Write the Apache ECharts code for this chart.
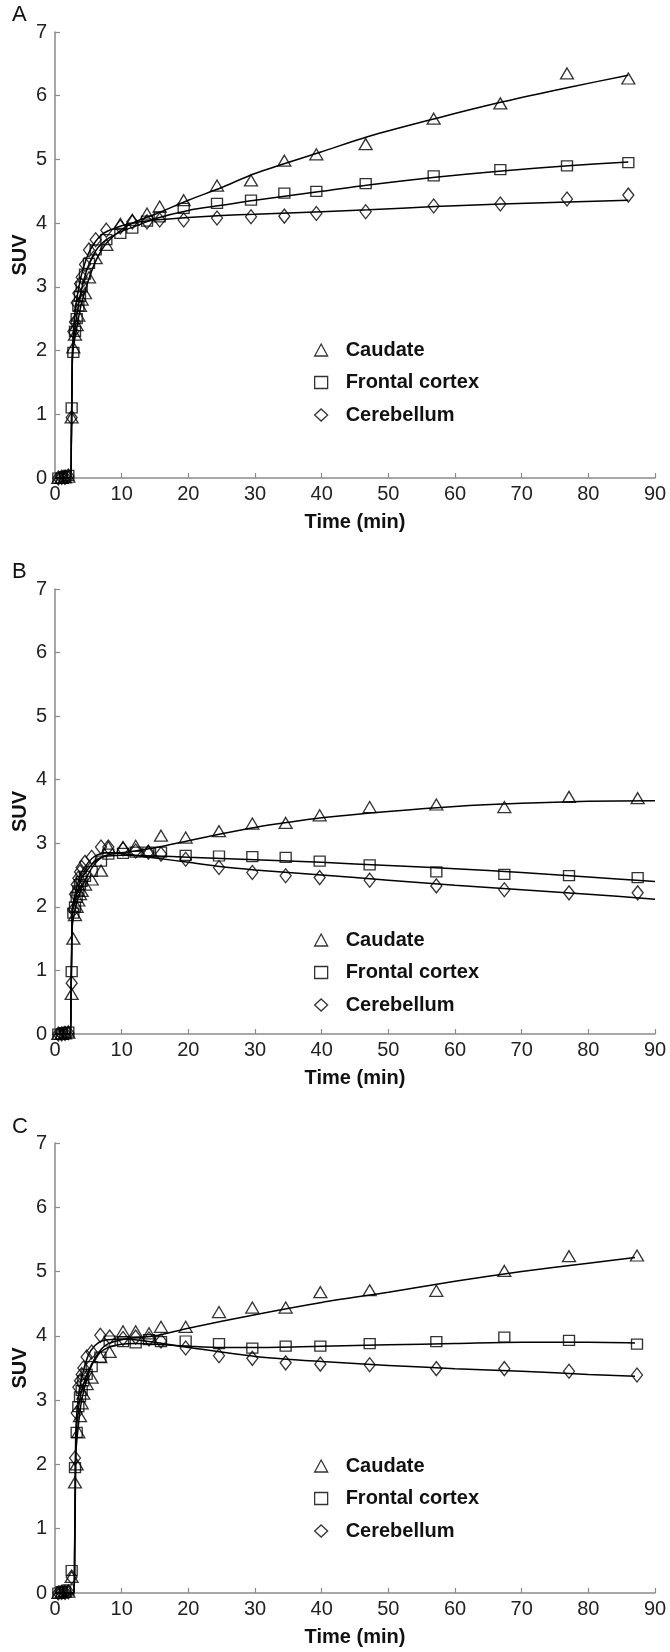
<!DOCTYPE html>
<html>
<head>
<meta charset="utf-8">
<script src="https://cdn.jsdelivr.net/npm/echarts@6/dist/echarts.min.js"></script>
<style>html,body{margin:0;padding:0;background:#fff}#c{width:670px;height:1652px}</style>
</head>
<body>
<div id="c"></div>
<script>
// ---------- DATA ----------
const regions = ['Caudate', 'Frontal cortex', 'Cerebellum'];
const panelLabels = ['A', 'B', 'C'];
const xTicks = [0, 10, 20, 30, 40, 50, 60, 70, 80, 90];
const yTicks = [0, 1, 2, 3, 4, 5, 6, 7];

// Panel A measured points
const timeA = [0.5, 1, 1.5, 2, 2.5, 2.75, 3, 3.25, 3.5, 3.75, 4, 4.5, 5.1, 6.1, 7.7, 9.8, 11.6, 13.8, 15.7, 19.3, 24.3, 29.4, 34.4, 39.2, 46.6, 56.8, 66.8, 76.8, 86];
const caudateA = [0, 0, 0.01, 0.02, 0.95, 2.05, 2.25, 2.4, 2.55, 2.7, 2.8, 2.9, 3.15, 3.45, 3.66, 3.99, 4.05, 4.15, 4.26, 4.36, 4.59, 4.67, 4.98, 5.08, 5.24, 5.64, 5.88, 6.35, 6.27];
const frontalA = [0, 0, 0.02, 0.04, 1.1, 1.97, 2.3, 2.5, 2.7, 2.85, 3.0, 3.2, 3.37, 3.58, 3.74, 3.84, 3.92, 4.03, 4.10, 4.23, 4.31, 4.36, 4.47, 4.50, 4.62, 4.74, 4.84, 4.90, 4.95];
const cerebA = [0, 0.01, 0.01, 0.03, 0.95, 2.3, 2.45, 2.75, 2.9, 3.05, 3.15, 3.35, 3.58, 3.74, 3.89, 3.94, 4.02, 4.02, 4.05, 4.05, 4.08, 4.10, 4.11, 4.15, 4.18, 4.27, 4.30, 4.38, 4.44];
// Panel A fitted curves [time, SUV]
const caudateFitA = [[0,0],[2.35,0],[2.45,0.5],[2.55,1.4],[2.65,1.95],[3,2.2],[3.5,2.5],[4,2.75],[5,3.1],[6,3.38],[7,3.58],[8,3.72],[10,3.9],[12,4.02],[15,4.14],[20,4.36],[25,4.56],[30,4.78],[40,5.12],[47,5.36],[57,5.64],[67,5.9],[77,6.13],[86,6.32]];
const frontalFitA = [[0,0],[2.35,0],[2.45,0.6],[2.55,1.5],[2.65,2.0],[3,2.35],[3.5,2.7],[4,2.97],[5,3.33],[6,3.55],[7,3.68],[8,3.76],[10,3.87],[12,3.95],[15,4.07],[20,4.2],[25,4.28],[30,4.36],[40,4.5],[47,4.6],[57,4.72],[67,4.82],[77,4.9],[86,4.96]];
const cerebFitA = [[0,0],[2.35,0],[2.45,0.6],[2.55,1.5],[2.65,2.1],[3,2.6],[3.5,2.95],[4,3.2],[5,3.52],[6,3.7],[7,3.82],[8,3.88],[10,3.96],[12,4.01],[15,4.05],[20,4.09],[25,4.12],[30,4.14],[40,4.18],[47,4.21],[57,4.26],[67,4.3],[77,4.33],[86,4.36]];

// Panel B measured points
const timeB = [0.5, 1, 1.5, 2, 2.5, 2.75, 3, 3.25, 3.5, 3.75, 4, 4.5, 5.5, 6.9, 8, 10.2, 12.1, 14, 15.9, 19.6, 24.6, 29.6, 34.6, 39.7, 47.2, 57.2, 67.4, 77.1, 87.4];
const caudateB = [0, 0, 0.01, 0.02, 0.63, 1.5, 1.87, 2.0, 2.1, 2.2, 2.25, 2.35, 2.43, 2.57, 2.94, 2.94, 2.96, 2.88, 3.12, 3.09, 3.19, 3.31, 3.32, 3.44, 3.57, 3.61, 3.57, 3.73, 3.71];
const frontalB = [0, 0, 0.02, 0.03, 0.98, 1.9, 2.0, 2.15, 2.25, 2.35, 2.4, 2.48, 2.56, 2.72, 2.83, 2.84, 2.86, 2.86, 2.86, 2.81, 2.80, 2.79, 2.78, 2.72, 2.66, 2.55, 2.51, 2.49, 2.46];
const cerebB = [0, 0, 0.01, 0.02, 0.8, 1.95, 2.2, 2.35, 2.45, 2.55, 2.62, 2.7, 2.78, 2.94, 2.94, 2.91, 2.88, 2.86, 2.83, 2.75, 2.62, 2.54, 2.49, 2.46, 2.42, 2.33, 2.27, 2.22, 2.22];
const caudateFitB = [[0,0],[2.3,0],[2.4,0.5],[2.5,1.2],[2.6,1.7],[3,1.95],[3.5,2.15],[4,2.3],[5,2.52],[6,2.68],[7,2.78],[8,2.82],[10,2.85],[12,2.88],[15,2.93],[20,3.04],[25,3.15],[30,3.25],[35,3.33],[40,3.4],[50,3.5],[60,3.58],[70,3.63],[80,3.66],[90,3.67]];
const frontalFitB = [[0,0],[2.3,0],[2.4,0.6],[2.5,1.3],[2.6,1.9],[3,2.1],[3.5,2.3],[4,2.45],[5,2.6],[6,2.72],[7,2.78],[8,2.8],[10,2.81],[15,2.8],[20,2.78],[30,2.74],[40,2.7],[50,2.65],[60,2.6],[70,2.54],[80,2.47],[90,2.4]];
const cerebFitB = [[0,0],[2.3,0],[2.4,0.6],[2.5,1.4],[2.6,1.95],[3,2.2],[3.5,2.4],[4,2.55],[5,2.7],[6,2.8],[7,2.84],[8,2.85],[10,2.84],[12,2.81],[15,2.77],[20,2.7],[25,2.63],[30,2.58],[40,2.5],[50,2.42],[60,2.34],[70,2.27],[80,2.2],[90,2.12]];

// Panel C measured points
const timeC = [0.5, 1, 1.5, 2, 2.5, 3, 3.25, 3.5, 3.75, 4, 4.25, 4.75, 5.5, 6.8, 8.2, 10.2, 12.1, 14.1, 15.9, 19.6, 24.6, 29.6, 34.6, 39.8, 47.2, 57.2, 67.4, 77.1, 87.3];
const caudateC = [0, 0.01, 0.02, 0.02, 0.25, 1.72, 2.0, 2.5, 2.75, 2.95, 3.1, 3.25, 3.35, 3.67, 3.75, 4.07, 4.07, 4.04, 4.14, 4.14, 4.37, 4.44, 4.44, 4.68, 4.71, 4.70, 5.01, 5.24, 5.25];
const frontalC = [0, 0.02, 0.03, 0.05, 0.35, 1.95, 2.5, 2.9, 3.05, 3.15, 3.3, 3.4, 3.52, 3.67, 3.92, 3.91, 3.89, 3.94, 3.91, 3.92, 3.88, 3.81, 3.84, 3.84, 3.88, 3.91, 3.98, 3.93, 3.87];
const cerebC = [0, 0.01, 0.01, 0.02, 0.25, 2.1, 2.8, 3.2, 3.3, 3.4, 3.5, 3.67, 3.75, 4.01, 3.98, 3.96, 3.98, 3.95, 3.92, 3.81, 3.69, 3.65, 3.58, 3.56, 3.55, 3.49, 3.49, 3.45, 3.39];
const caudateFitC = [[0,0],[2.85,0],[2.95,0.6],[3.05,1.5],[3.15,2.2],[3.5,2.6],[4,3.0],[5,3.4],[6,3.65],[7,3.8],[8,3.88],[10,3.94],[12,3.97],[15,4.0],[20,4.12],[30,4.33],[40,4.52],[50,4.68],[60,4.85],[70,5.0],[80,5.13],[87,5.22]];
const frontalFitC = [[0,0],[2.85,0],[2.95,0.7],[3.05,1.7],[3.15,2.4],[3.5,2.85],[4,3.15],[5,3.45],[6,3.65],[7,3.76],[8,3.82],[10,3.87],[12,3.88],[15,3.87],[20,3.84],[25,3.82],[30,3.82],[40,3.84],[50,3.86],[60,3.88],[70,3.9],[80,3.9],[87,3.89]];
const cerebFitC = [[0,0],[2.85,0],[2.95,0.8],[3.05,1.9],[3.15,2.6],[3.5,3.05],[4,3.35],[5,3.7],[6,3.85],[7,3.92],[8,3.94],[10,3.95],[12,3.94],[15,3.9],[20,3.82],[30,3.68],[40,3.6],[50,3.54],[60,3.49],[70,3.45],[80,3.4],[87,3.37]];

// ---------- BUILD ----------
const panels = [
  {time: timeA, vals: [caudateA, frontalA, cerebA], fits: [caudateFitA, frontalFitA, cerebFitA]},
  {time: timeB, vals: [caudateB, frontalB, cerebB], fits: [caudateFitB, frontalFitB, cerebFitB]},
  {time: timeC, vals: [caudateC, frontalC, cerebC], fits: [caudateFitC, frontalFitC, cerebFitC]}
];
const layout = [
  {top: 32, height: 446, title: 4, legend: 340},
  {top: 589, height: 445, title: 561, legend: 930},
  {top: 1143, height: 450, title: 1116, legend: 1456}
];
const symbols = ['triangle', 'rect', 'diamond'];
const symSizes = [[13, 11], [11, 10], [11, 14]];
const FONT = '"Liberation Sans", Arial, Helvetica, sans-serif';
const AXIS_COLOR = '#8a8a8a';

const grids = [], xAxes = [], yAxes = [], series = [], titles = [], legends = [];
panels.forEach((p, i) => {
  const L = layout[i];
  grids.push({left: 55, width: 600, top: L.top, height: L.height, containLabel: false, outerBoundsMode: 'none'});
  xAxes.push({
    type: 'value', gridIndex: i, min: xTicks[0], max: xTicks[xTicks.length - 1], interval: 10,
    name: 'Time (min)', nameLocation: 'middle', nameGap: 34,
    nameTextStyle: {fontFamily: FONT, fontSize: 20, fontWeight: 'bold', color: '#111'},
    axisLine: {show: true, lineStyle: {color: AXIS_COLOR, width: 1.5}},
    axisTick: {show: true, inside: true, length: 5, lineStyle: {color: AXIS_COLOR, width: 1.2}},
    axisLabel: {fontFamily: FONT, fontSize: 20, color: '#222', margin: 6},
    splitLine: {show: false}
  });
  yAxes.push({
    type: 'value', gridIndex: i, min: yTicks[0], max: yTicks[yTicks.length - 1], interval: 1,
    name: 'SUV', nameLocation: 'middle', nameGap: 25, nameMoveOverlap: false,
    nameTextStyle: {fontFamily: FONT, fontSize: 20, fontWeight: 'bold', color: '#111'},
    axisLine: {show: true, lineStyle: {color: AXIS_COLOR, width: 1.5}},
    axisTick: {show: true, inside: true, length: 5, lineStyle: {color: AXIS_COLOR, width: 1.2}},
    axisLabel: {fontFamily: FONT, fontSize: 20, color: '#222', margin: 8},
    splitLine: {show: false}
  });
  titles.push({text: panelLabels[i], left: 12, top: L.title, padding: 0,
    textStyle: {fontFamily: FONT, fontSize: 22, fontWeight: 'normal', color: '#111'}});
  legends.push({
    data: regions, orient: 'vertical', left: 314, top: L.legend, padding: 0,
    itemGap: 12.5, itemWidth: 13, itemHeight: 12, selectedMode: false,
    textStyle: {fontFamily: FONT, fontSize: 20, fontWeight: 'bold', color: '#111', lineHeight: 20, padding: [0, 0, 0, 13]},
    itemStyle: {color: 'rgba(0,0,0,0)', borderColor: '#000', borderWidth: 1.3}
  });
  p.fits.forEach((f, k) => {
    series.push({
      name: regions[k] + ' fit', type: 'line', xAxisIndex: i, yAxisIndex: i, data: f,
      showSymbol: false, symbol: 'none', smooth: 0.3, silent: true,
      lineStyle: {color: '#000', width: 1.5}, z: 2
    });
  });
  p.vals.forEach((v, k) => {
    series.push({
      name: regions[k], type: 'scatter', xAxisIndex: i, yAxisIndex: i,
      data: p.time.map((t, j) => [t, v[j]]),
      symbol: symbols[k], symbolSize: symSizes[k],
      itemStyle: {color: 'rgba(0,0,0,0)', borderColor: '#000', borderWidth: 1.3}, z: 3
    });
  });
});

const chart = echarts.init(document.getElementById('c'), null, {renderer: 'canvas'});
chart.setOption({
  animation: false,
  backgroundColor: '#fff',
  title: titles, legend: legends,
  grid: grids, xAxis: xAxes, yAxis: yAxes, series: series
});
</script>
</body>
</html>
